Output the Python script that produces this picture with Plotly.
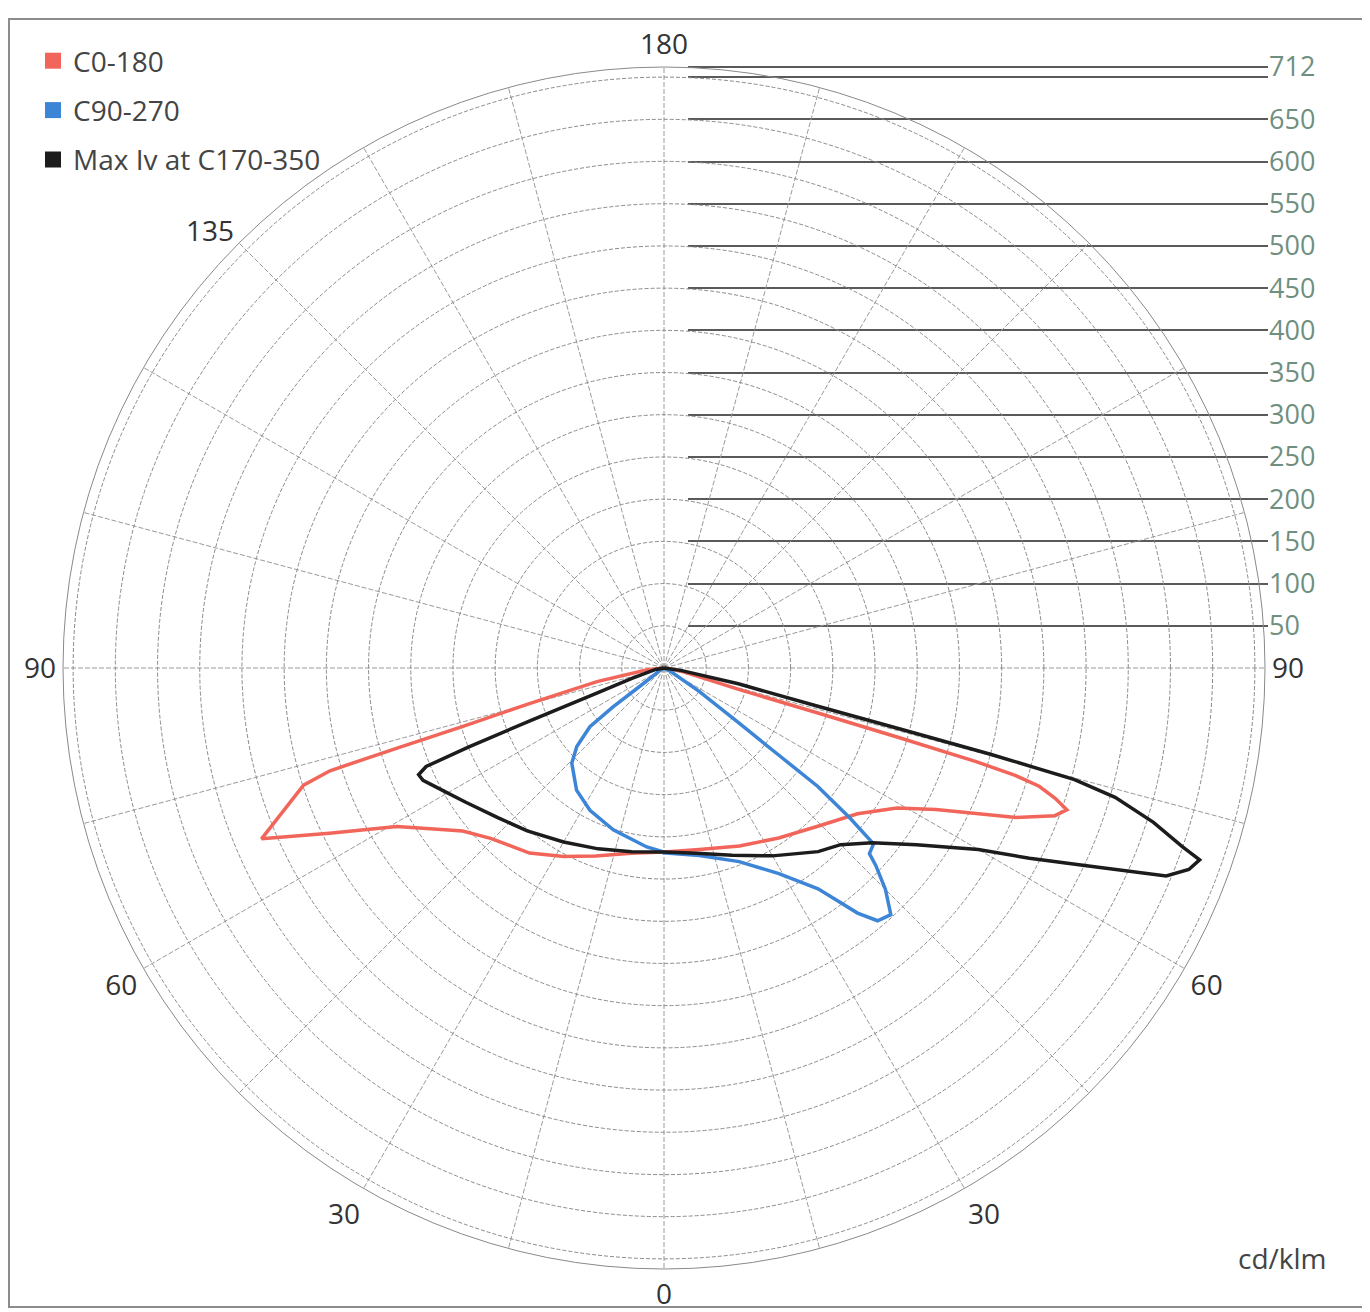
import plotly.graph_objects as go

# ---------------- data (cd/klm vs gamma angle) ----------------
# C0-180 (red): right half = C0, left half = C180
c0_gamma = [0, 11, 23, 34, 44, 53, 59, 62.5, 65, 67, 69.3, 70.6, 71.6, 72.5, 73, 73.3, 73.5, 73.7, 74, 80, 90]
c0_iv = [218, 219, 229, 243, 261, 287, 322, 363, 408, 453, 495, 506, 488, 466, 435, 386, 288, 190, 92, 20, 0]
c180_gamma = [0, 10, 20, 28, 36, 45.5, 51, 55.5, 59.3, 63.7, 67, 72, 72.9, 73.3, 73.8, 75.2, 78.5, 84, 90]
c180_iv = [218, 223, 237, 253, 271, 288, 307, 336, 368, 442, 518, 449, 414, 331, 248, 164, 81, 20, 0]

# C90-270 (blue): right half = C90, left half = C270
c90_gamma = [0, 10.7, 21.2, 29.2, 34.9, 38.3, 40.2, 42.6, 45, 47, 47.9, 50, 51.1, 52.4, 52.8, 53.7, 56.4, 62, 90]
c90_iv = [219, 226, 246, 279, 319, 370, 392, 397, 371, 343, 328, 324, 283, 230, 170, 110, 50, 10, 0]
c270_gamma = [0, 5.5, 17.4, 27.5, 35.6, 44.1, 48, 51.6, 52.6, 53, 60, 90]
c270_iv = [218, 213, 201, 190, 178, 157, 139, 112, 76, 30, 5, 0]

# Max Iv at C170-350 (black): right half = C350, left half = C170
c350_gamma = [0, 10, 20, 30, 40, 45, 50, 55, 60, 62.5, 65, 67.5, 69, 70.3, 71, 72.5, 74, 74.8, 75.2, 75.5, 76, 78, 82, 90]
c350_iv = [218, 223, 236, 257, 284, 296, 322, 365, 430, 488, 555, 644, 666, 674, 649, 608, 556, 504, 400, 290, 190, 90, 20, 0]
c170_gamma = [0, 10, 20, 30, 40, 48, 56, 62, 65, 66.5, 67.5, 68, 68.5, 69.5, 72, 80, 90]
c170_iv = [218, 221, 228, 238, 252, 265, 284, 303, 315, 317, 305, 250, 170, 85, 40, 10, 0]

series_names = ["C0-180", "C90-270", "Max Iv at C170-350"]
series_colors = ["#f2655a", "#3d85d6", "#1c1c1c"]

ring_values = [50, 100, 150, 200, 250, 300, 350, 400, 450, 500, 550, 600, 650, 700]
radial_max = 712
scale_ticks = [50, 100, 150, 200, 250, 300, 350, 400, 450, 500, 550, 600, 650, 700, 712]
scale_labels = ["50", "100", "150", "200", "250", "300", "350", "400", "450", "500",
                "550", "600", "650", "", "712"]

spoke_angles = list(range(0, 360, 15))
angle_labels = {0: "0", 30: "30", 60: "60", 90: "90", 180: "180",
                225: "135", 270: "90", 300: "60", 330: "30"}
unit_label = "cd/klm"


def build(right_g, right_v, left_g, left_v):
    theta = list(reversed(right_g)) + [360 - g for g in left_g]
    r = list(reversed(right_v)) + list(left_v)
    return theta, r


curves = [
    build(c0_gamma, c0_iv, c180_gamma, c180_iv),
    build(c90_gamma, c90_iv, c270_gamma, c270_iv),
    build(c350_gamma, c350_iv, c170_gamma, c170_iv),
]

fig = go.Figure()

# empty cartesian trace so the scale axis (horizontal lines at right) is drawn
fig.add_trace(go.Scatter(x=[], y=[], xaxis="x", yaxis="y", showlegend=False, hoverinfo="skip"))

for (theta, r), name, color in zip(curves, series_names, series_colors):
    fig.add_trace(go.Scatterpolar(
        r=r, theta=theta, mode="lines", name=name,
        line=dict(color=color, width=3.5),
        showlegend=False, legendgroup=name,
    ))

# legend entries with square swatches
for name, color in zip(series_names, series_colors):
    fig.add_trace(go.Scatterpolar(
        r=[None], theta=[None], mode="markers", name=name,
        marker=dict(symbol="square", size=16, color=color),
        legendgroup=name, showlegend=True,
    ))

# page offset (body margin) compensation: positions given in target pixels
OFF = 8
W, H = 1370 - OFF, 1312 - OFF


def px(x):
    return (x - OFF) / W


def py(y):
    return 1 - (y - OFF) / H


cx, cy, R = 664, 668, 601
y_top_val = 715  # a little headroom so the 712 gridline is drawn
y_top_px = cy - R * y_top_val / radial_max

fig.update_layout(
    width=W, height=H,
    margin=dict(l=0, r=0, t=0, b=0, autoexpand=False),
    paper_bgcolor="white",
    plot_bgcolor="rgba(0,0,0,0)",
    font=dict(family="Open Sans", size=28, color="#333333"),
    showlegend=True,
    legend=dict(
        x=px(33), y=py(36), xanchor="left", yanchor="top",
        bgcolor="rgba(255,255,255,0)",
        font=dict(family="Open Sans", size=28, color="#444444"),
        traceorder="grouped", tracegroupgap=10,
    ),
    polar=dict(
        domain=dict(x=[px(cx - R), px(cx + R)], y=[py(cy + R), py(cy - R)]),
        bgcolor="rgba(0,0,0,0)",
        radialaxis=dict(
            range=[0, radial_max], tickvals=ring_values, showticklabels=False,
            ticks="", showline=False, gridcolor="#8a8a8a", gridwidth=1, griddash="4px,2px",
        ),
        angularaxis=dict(
            rotation=270, direction="counterclockwise",
            tickvals=spoke_angles,
            ticktext=[angle_labels.get(a, "") for a in spoke_angles],
            showline=True, linecolor="#8a8a8a", linewidth=1,
            gridcolor="#9a9a9a", gridwidth=1, griddash="5px,2px",
            ticks="outside", ticklen=1, tickcolor="rgba(0,0,0,0)",
            tickfont=dict(size=28, color="#333333"),
        ),
    ),
    xaxis=dict(domain=[px(688), px(1268)], range=[0, 1], visible=False, fixedrange=True),
    yaxis=dict(
        domain=[py(cy), py(y_top_px)], range=[0, y_top_val],
        side="right", tickvals=scale_ticks, ticktext=scale_labels,
        showgrid=True, gridcolor="#5a5a5a", gridwidth=1.5, zeroline=False,
        showline=False, ticks="", fixedrange=True,
        tickfont=dict(size=27, color="#6f8f80"),
    ),
    shapes=[dict(type="rect", xref="paper", yref="paper",
                 x0=px(9), x1=px(1366), y0=py(1307), y1=py(19),
                 line=dict(color="#8c8c8c", width=2))],
    annotations=[dict(text=unit_label, xref="paper", yref="paper",
                      x=px(1282), y=py(1258), xanchor="center", yanchor="middle",
                      showarrow=False, font=dict(size=28, color="#444444"))],
)

fig.write_html("out.html")
